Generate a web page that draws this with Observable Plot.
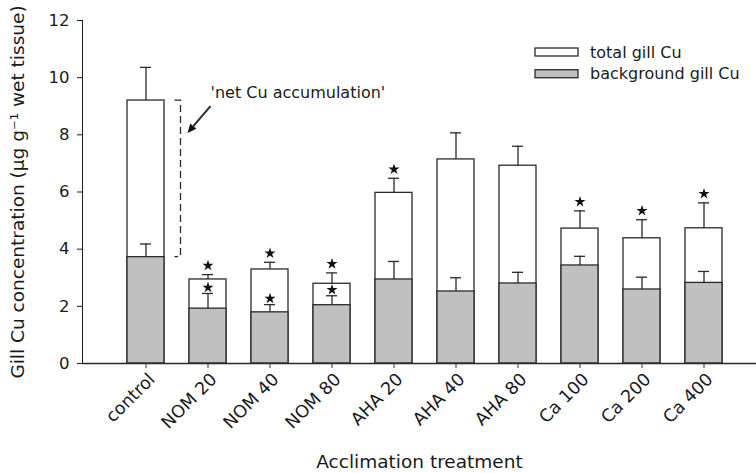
<!DOCTYPE html>
<html><head><meta charset="utf-8">
<script src="https://cdn.jsdelivr.net/npm/d3@7"></script>
<script src="https://cdn.jsdelivr.net/npm/@observablehq/plot@0.6"></script>
<style>body{margin:0;background:#fff} svg{display:block}</style>
</head><body><div id="chart"></div>
<script>
const treatments = ["control","NOM 20","NOM 40","NOM 80","AHA 20","AHA 40","AHA 80","Ca 100","Ca 200","Ca 400"];
const totalCu = [9.20, 2.94, 3.29, 2.79, 5.97, 7.14, 6.92, 4.72, 4.38, 4.73];
const totalErr = [1.16, 0.17, 0.25, 0.38, 0.51, 0.93, 0.68, 0.62, 0.65, 0.89];
const backgroundCu = [3.72, 1.92, 1.79, 2.04, 2.94, 2.52, 2.80, 3.43, 2.59, 2.82];
const backgroundErr = [0.46, 0.53, 0.27, 0.33, 0.63, 0.48, 0.39, 0.32, 0.43, 0.40];
const totalSig = [false, true, true, true, true, false, false, true, true, true];
const backgroundSig = [false, true, true, true, false, false, false, false, false, false];
const yTicks = [0, 2, 4, 6, 8, 10, 12];
const seriesNames = ["total gill Cu", "background gill Cu"];
const xTitle = "Acclimation treatment";
const yTitle = "Gill Cu concentration (µg g⁻¹ wet tissue)";
const noteText = "'net Cu accumulation'";

const data = treatments.map((t, i) => ({
  t, total: totalCu[i], totalErr: totalErr[i], bg: backgroundCu[i], bgErr: backgroundErr[i],
  totalSig: totalSig[i], bgSig: backgroundSig[i]
}));

const ink = "#2a2a2a";
const sw = 1.3;
const grey = "#c0c0c0";

const plot = Plot.plot({
  width: 756, height: 473,
  marginLeft: 82, marginRight: 0, marginTop: 20, marginBottom: 110,
  style: {fontFamily: "'DejaVu Sans', sans-serif", fontSize: "16.5px", color: "#1a1a1a", background: "white"},
  x: {domain: treatments, paddingInner: 0.4, paddingOuter: 0.618, align: 0.576},
  y: {domain: [0, 12], ticks: yTicks, tickSize: 5, tickPadding: 8, line: true, label: null},
  marks: [
    Plot.barY(data, {x: "t", y: "total", fill: "white", stroke: ink, strokeWidth: sw}),
    Plot.barY(data, {x: "t", y: "bg", fill: grey, stroke: ink, strokeWidth: sw}),
    Plot.ruleY([0], {stroke: ink, strokeWidth: sw}),
    Plot.axisX({tickSize: 5, tickFormat: () => "", label: null, stroke: ink}),
    Plot.axisX({tickSize: 0, tickRotate: -45, tickPadding: 9, dx: 6, dy: 4, label: null, fill: "#1a1a1a", fontSize: 17.5}),
    Plot.ruleX(data, {x: "t", y1: "total", y2: d => d.total + d.totalErr, stroke: ink, strokeWidth: sw}),
    Plot.tickY(data, {x: "t", y: d => d.total + d.totalErr, inset: 13, stroke: ink, strokeWidth: sw}),
    Plot.ruleX(data, {x: "t", y1: "bg", y2: d => d.bg + d.bgErr, stroke: ink, strokeWidth: sw}),
    Plot.tickY(data, {x: "t", y: d => d.bg + d.bgErr, inset: 13, stroke: ink, strokeWidth: sw}),
    Plot.dot(data.filter(d => d.totalSig), {x: "t", y: d => d.total + d.totalErr, symbol: "star", r: 3.5, fill: "#111", stroke: "none", dy: -9}),
    Plot.dot(data.filter(d => d.bgSig), {x: "t", y: d => d.bg + d.bgErr, symbol: "star", r: 3.5, fill: "#111", stroke: "none", dy: -6}),
    Plot.text([xTitle], {frameAnchor: "bottom", lineAnchor: "middle", textAnchor: "middle", dy: 99, fontSize: 18.5, fill: "#1a1a1a"}),
    Plot.text([yTitle], {frameAnchor: "left", lineAnchor: "middle", textAnchor: "middle", rotate: -90, dx: -64, fontSize: 18.5, fill: "#1a1a1a"})
  ]
});

document.getElementById("chart").appendChild(plot);

// Annotation and legend, positioned through the plot's scales
const svg = d3.select(plot);
const xs = plot.scale("x"), ys = plot.scale("y");
const cx = xs.apply("control") + xs.bandwidth / 2;
const yTop = ys.apply(totalCu[0]), yBot = ys.apply(backgroundCu[0]);
const bx = cx + 35;
const g = svg.append("g").attr("stroke", ink).attr("stroke-width", sw).attr("fill", "none");
g.append("path").attr("d", `M${bx - 6},${yTop}H${bx}V${yBot}H${bx - 6}`).attr("stroke-dasharray", "7,4");
// arrow
const ax1 = cx + 65, ay1 = yTop + 6, ax2 = cx + 42, ay2 = yTop + 33;
const ang = Math.atan2(ay2 - ay1, ax2 - ax1);
const hl = 9, hw = 4;
const bxh = ax2 - hl * Math.cos(ang), byh = ay2 - hl * Math.sin(ang);
g.append("line").attr("x1", ax1).attr("y1", ay1).attr("x2", bxh).attr("y2", byh).attr("stroke-width", 2);
svg.append("path")
  .attr("d", `M${ax2},${ay2}L${bxh + hw * Math.sin(ang)},${byh - hw * Math.cos(ang)}L${bxh - hw * Math.sin(ang)},${byh + hw * Math.cos(ang)}Z`)
  .attr("fill", "#111");
svg.append("text").attr("x", cx + 65).attr("y", yTop - 8).attr("dy", "0.35em")
  .attr("text-anchor", "start").attr("font-size", 16).attr("fill", "#1a1a1a").text(noteText);

// legend
const lg = svg.append("g").attr("transform", "translate(535,48)");
[["white", 0], [grey, 1]].forEach(([fill, i]) => {
  lg.append("rect").attr("x", 0).attr("y", i * 21.7).attr("width", 43).attr("height", 8)
    .attr("fill", fill).attr("stroke", ink).attr("stroke-width", sw);
  lg.append("text").attr("x", 55).attr("y", i * 21.7 + 4).attr("dy", "0.35em")
    .attr("text-anchor", "start").attr("font-size", 16).attr("fill", "#1a1a1a").text(seriesNames[i]);
});
</script>
</body></html>
